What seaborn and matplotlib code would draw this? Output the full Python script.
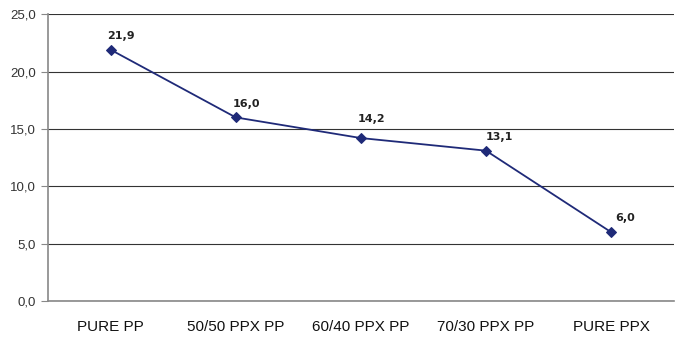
import numpy as np
import pandas as pd
import seaborn as sns
import matplotlib.pyplot as plt
from matplotlib.ticker import FixedLocator, FuncFormatter

# Datos
categorias = ["PURE PP", "50/50 PPX PP", "60/40 PPX PP", "70/30 PPX PP", "PURE PPX"]
valores = [21.9, 16.0, 14.2, 13.1, 6.0]
etiquetas = ["21,9", "16,0", "14,2", "13,1", "6,0"]

df = pd.DataFrame({"cat": categorias, "val": valores})

sns.set_style("white")
plt.rcParams['font.family'] = ['Liberation Sans', 'DejaVu Sans']

fig = plt.figure(figsize=(6.77, 3.37), dpi=100)
ax = fig.add_axes([0.071, 0.107, 0.924, 0.851])

color = "#1f2a78"
sns.lineplot(data=df, x="cat", y="val", marker="D", markersize=5, color=color,
             linewidth=1.3, markeredgecolor=color, ax=ax, sort=False)

# etiquetas de datos (la de 14,2 va un poco más arriba, sobre la línea de rejilla)
for i, t in enumerate(etiquetas):
    dy = 13.5 if i == 2 else 10
    dx = 10 if i >= 3 else 7.5
    ax.annotate(t, (i, valores[i]), xytext=(dx, dy), textcoords="offset points",
                ha="center", va="center", fontsize=8, fontweight="bold", color="#222222",
                family=["DejaVu Sans"])

ax.set_xlim(-0.5, 4.5)
ax.set_ylim(0, 25)
ax.set_yticks(np.arange(0, 26, 5))
ax.yaxis.set_major_formatter(FuncFormatter(lambda v, p: f"{v:.1f}".replace(".", ",")))
ax.grid(axis="y", color="#333333", linewidth=0.8)
ax.set_axisbelow(True)

ax.xaxis.set_minor_locator(FixedLocator(np.arange(-0.5, 5, 1)))
ax.tick_params(axis="x", which="major", length=0, pad=14, labelsize=11, labelcolor="#111111")
ax.tick_params(axis="x", which="minor", length=5, color="#888888", width=1, direction="out")
ax.tick_params(axis="y", length=5, color="#888888", labelsize=9.5, labelcolor="#333333", direction="out", left=True)

for s in ["top", "right"]:
    ax.spines[s].set_visible(False)
for s in ["left", "bottom"]:
    ax.spines[s].set_color("#888888")
    ax.spines[s].set_linewidth(1.2)

ax.set_xlabel("")
ax.set_ylabel("")

fig.savefig("out.png", dpi=100)
